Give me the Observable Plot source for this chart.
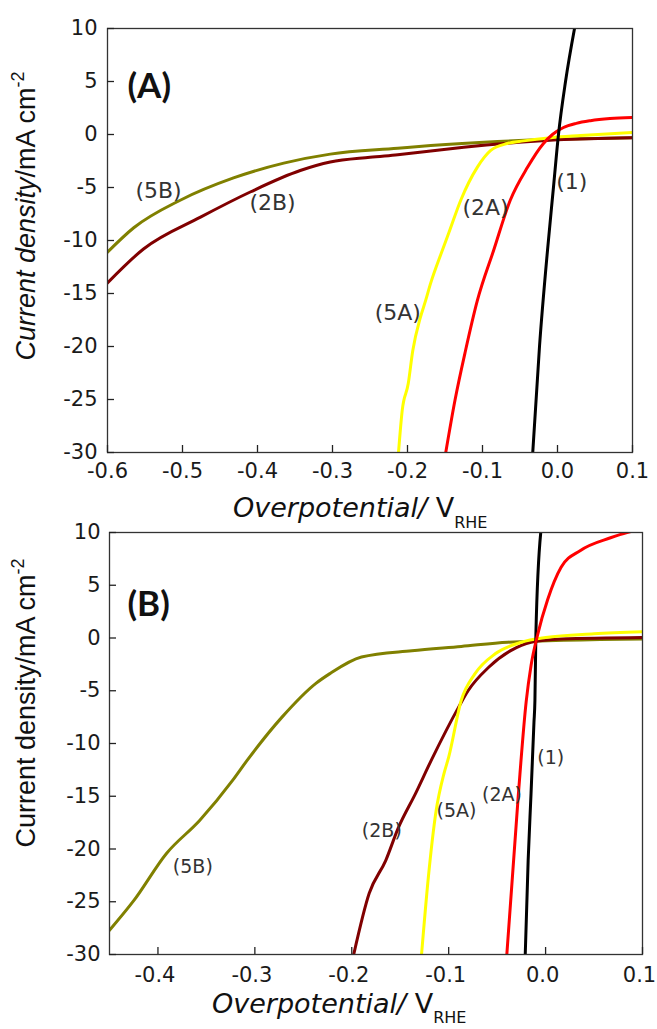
<!DOCTYPE html>
<html><head><meta charset="utf-8">
<script src="https://cdn.jsdelivr.net/npm/d3@7"></script>
<script src="https://cdn.jsdelivr.net/npm/@observablehq/plot@0.6"></script>
<style>
body{margin:0;background:#fff;}
#wrap{position:relative;width:657px;height:1029px;}
#wrap svg{position:absolute;left:0;overflow:visible;}
</style></head><body><div id="wrap"></div>
<script>
// ---- series colours ----
const seriesNames = ["(1)", "(2A)", "(5A)", "(2B)", "(5B)"];
const seriesColors = ["#000000", "#ff0000", "#ffff00", "#800000", "#808000"];

// ---- panel A data: [overpotential V, current density mA cm-2] ----
const A_1  = [[-0.033,-30],[-0.024,-20],[-0.0133,-10.9],[-0.0054,-5],[0.0013,0],[0.0107,5],[0.0227,10]];
const A_2A = [[-0.149,-30],[-0.1365,-25],[-0.1227,-20.4],[-0.107,-15.7],[-0.085,-10.9],[-0.063,-6.2],[-0.04,-3.1],[-0.0187,-0.85],[-0.0067,0],[0.008,0.66],[0.025,1.05],[0.044,1.3],[0.07,1.5],[0.1,1.6]];
const A_5A = [[-0.212,-30],[-0.207,-26],[-0.199,-23.5],[-0.193,-20.4],[-0.183,-17.3],[-0.176,-15.7],[-0.169,-14],[-0.155,-11.2],[-0.145,-9.3],[-0.129,-6.2],[-0.107,-3.1],[-0.089,-1.5],[-0.067,-0.85],[-0.045,-0.6],[-0.009,-0.3],[0.031,-0.1],[0.1,0.2]];
const A_2B = [[-0.6,-14],[-0.552,-10.8],[-0.476,-7.8],[-0.409,-5.4],[-0.343,-3.4],[-0.303,-2.6],[-0.25,-2.15],[-0.213,-1.9],[-0.169,-1.55],[-0.125,-1.2],[-0.036,-0.66],[0.0,-0.5],[0.1,-0.3]];
const A_5B = [[-0.6,-11.1],[-0.565,-8.8],[-0.503,-6.2],[-0.432,-4.1],[-0.365,-2.7],[-0.303,-1.85],[-0.213,-1.3],[-0.169,-1.04],[-0.08,-0.66],[0.0,-0.45],[0.1,-0.3]];

// ---- panel B data ----
const B_1  = [[-0.021,-30],[-0.018,-21.1],[-0.015,-14.7],[-0.012,-8],[-0.011,-5.9],[-0.01,0.4],[-0.005,10]];
const B_2A = [[-0.04,-30],[-0.028,-14.7],[-0.02,-6],[-0.015,-2.6],[-0.008,0.4],[0.002,3.6],[0.016,6.7],[0.036,8.3],[0.067,9.5],[0.084,10],[0.1,10.3]];
const B_5A = [[-0.128,-30],[-0.121,-22.7],[-0.113,-16.4],[-0.105,-12.9],[-0.1,-11.3],[-0.087,-5.9],[-0.073,-3.4],[-0.052,-1.5],[-0.025,-0.4],[0.0,0.05],[0.05,0.4],[0.1,0.6]];
const B_2B = [[-0.198,-30],[-0.182,-24.2],[-0.165,-21.1],[-0.152,-18],[-0.134,-14.7],[-0.118,-11.6],[-0.09,-6.6],[-0.08,-5],[-0.059,-2.8],[-0.036,-1.2],[-0.015,-0.4],[0.016,-0.1],[0.1,0.05]];
const B_5B = [[-0.45,-27.7],[-0.425,-24.9],[-0.391,-20.4],[-0.357,-17.3],[-0.323,-13.5],[-0.308,-11.6],[-0.272,-7.5],[-0.237,-4.3],[-0.223,-3.4],[-0.19,-1.8],[-0.138,-1.2],[-0.087,-0.8],[-0.039,-0.4],[0.1,-0.1]];

// ---- curve labels (data coordinates) ----
const labelTextA = ["(5B)", "(2B)", "(2A)", "(1)", "(5A)"];
const labelXA = [-0.532, -0.38, -0.096, 0.019, -0.213];
const labelYA = [-5.28, -6.42, -6.9, -4.43, -16.8];
const labelTextB = ["(5B)", "(2B)", "(5A)", "(2A)", "(1)"];
const labelXB = [-0.364, -0.169, -0.092, -0.045, 0.0054];
const labelYB = [-21.66, -18.3, -16.4, -14.9, -11.4];

// ---- axes ----
const xTicksA = [-0.6, -0.5, -0.4, -0.3, -0.2, -0.1, 0.0, 0.1];
const xTickLabelsA = ["-0.6", "-0.5", "-0.4", "-0.3", "-0.2", "-0.1", "0.0", "0.1"];
const xTicksB = [-0.4, -0.3, -0.2, -0.1, 0.0, 0.1];
const xTickLabelsB = ["-0.4", "-0.3", "-0.2", "-0.1", "0.0", "0.1"];
const yTicks = [10, 5, 0, -5, -10, -15, -20, -25, -30];
const yTickLabels = ["10", "5", "0", "-5", "-10", "-15", "-20", "-25", "-30"];
const panelTags = ["(A)", "(B)"];
const xTitle = ["Overpotential/", " V", "RHE"];
const yTitle = ["Current density", "/mA cm", "-2"];

const FONT = "DejaVu Sans, Liberation Sans, sans-serif";

function panel(o) {
  const iw = o.width - o.ml - o.mr, ih = o.height - o.mt - o.mb;
  const rows = [];
  o.series.forEach((s, k) => s.data.forEach(p => rows.push({name: s.name, x: p[0], y: p[1]})));
  const labels = o.labelText.map((t, i) => ({text: t, x: o.labelX[i], y: o.labelY[i]}));
  const marks = [
    ...o.series.map(s => Plot.line(rows.filter(r => r.name === s.name), {
      x: "x", y: "y", stroke: s.color, strokeWidth: 3, curve: "monotone-x", clip: true
    })),
    Plot.frame({stroke: "#333", strokeWidth: 1.3}),
    Plot.tickX(o.xTicks, {x: d => d, insetTop: ih - 7, stroke: "#222", strokeWidth: 1.3}),
    Plot.tickY(yTicks, {y: d => d, insetRight: iw - 7, stroke: "#222", strokeWidth: 1.3}),
    Plot.axisX(o.xTicks, {tickSize: 0, tickPadding: o.xPad, label: null, dx: o.xDx,
      tickFormat: d => o.xTickLabels[o.xTicks.indexOf(d)], fill: "#1a1a1a"}),
    Plot.axisY(yTicks, {tickSize: 0, tickPadding: o.yPad, label: null,
      tickFormat: d => yTickLabels[yTicks.indexOf(d)], fill: "#1a1a1a"}),
    Plot.text(labels, {x: "x", y: "y", text: "text", fontSize: o.labelSize, fill: "#333", fontFamily: FONT}),
    Plot.text([o.tag], {frameAnchor: "top-left", dx: o.tagDx, dy: o.tagDy, textAnchor: "start",
      fontFamily: "Lato, Open Sans, sans-serif", fontWeight: "bold", fontSize: 35, fill: "#111"})
  ];
  const svg = Plot.plot({
    width: o.width, height: o.height,
    marginTop: o.mt, marginRight: o.mr, marginBottom: o.mb, marginLeft: o.ml,
    x: {domain: o.xDomain}, y: {domain: [-30, 10]},
    style: {fontFamily: FONT, fontSize: "21px", background: "transparent", overflow: "visible", color: "#1a1a1a"},
    marks
  });
  svg.style.top = o.top + "px";
  const s = d3.select(svg);
  // x title
  const xt = s.append("text").attr("x", o.xTitleX).attr("y", o.xTitleY)
    .attr("text-anchor", "start").attr("fill", "#111")
    .style("font-family", FONT).style("font-size", "27px");
  xt.append("tspan").style("font-style", "italic").text(xTitle[0]);
  xt.append("tspan").text(xTitle[1]);
  xt.append("tspan").attr("dy", o.subDy).style("font-size", "16px").text(xTitle[2]);
  // y title
  const yt = s.append("text").attr("transform", `translate(${o.yTitleX},${o.yTitleY}) rotate(-90)`)
    .attr("text-anchor", "middle").attr("fill", "#111")
    .style("font-family", "Liberation Sans, Arial, sans-serif").style("font-size", "27px");
  yt.append("tspan").style("font-style", o.yItalic ? "italic" : "normal").text(yTitle[0]);
  yt.append("tspan").text(yTitle[1]);
  yt.append("tspan").attr("dy", -11).style("font-size", "18px").text(yTitle[2]);
  return svg;
}

const wrap = document.getElementById("wrap");
const mk = (names, datas) => names.map((n, i) => ({name: n, data: datas[i], color: seriesColors[seriesNames.indexOf(n)]}));

wrap.appendChild(panel({
  top: 0, width: 657, height: 500, mt: 28, mr: 25, mb: 48, ml: 107,
  xDomain: [-0.6, 0.1], xTicks: xTicksA, xTickLabels: xTickLabelsA, xPad: 11, yPad: 10, xDx: 0,
  series: mk(["(5B)", "(2B)", "(5A)", "(2A)", "(1)"], [A_5B, A_2B, A_5A, A_2A, A_1]),
  labelText: labelTextA, labelX: labelXA, labelY: labelYA, labelSize: 22,
  tag: panelTags[0], tagDx: 20, tagDy: 45,
  xTitleX: 233, xTitleY: 517, subDy: 11, yTitleX: 35, yTitleY: 216, yItalic: true
}));

wrap.appendChild(panel({
  top: 500, width: 657, height: 529, mt: 32, mr: 15, mb: 75, ml: 109,
  xDomain: [-0.45, 0.1], xTicks: xTicksB, xTickLabels: xTickLabelsB, xPad: 13, yPad: 9, xDx: -3,
  series: mk(["(5B)", "(2B)", "(5A)", "(1)", "(2A)"], [B_5B, B_2B, B_5A, B_1, B_2A]),
  labelText: labelTextB, labelX: labelXB, labelY: labelYB, labelSize: 19,
  tag: panelTags[1], tagDx: 18, tagDy: 59,
  xTitleX: 212, xTitleY: 513, subDy: 10, yTitleX: 35, yTitleY: 203, yItalic: false
}));
</script></body></html>
